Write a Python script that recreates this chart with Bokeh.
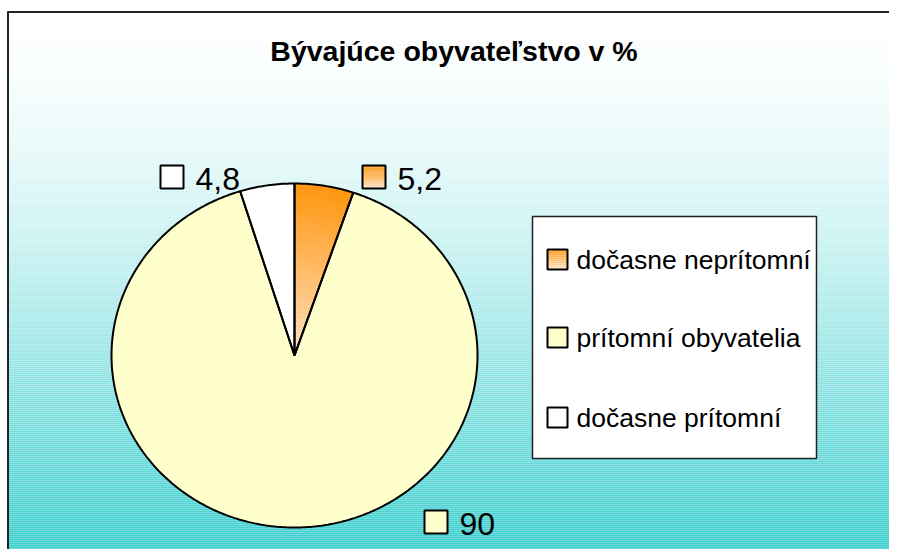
import numpy as np
from bokeh.plotting import figure
from bokeh.models import Range1d
from bokeh.core.properties import value
from bokeh.embed import file_html
from bokeh.resources import INLINE

# ---- data ----
title_text = "Bývajúce obyvateľstvo v %"
categories = ["dočasne neprítomní", "prítomní obyvatelia", "dočasne prítomní"]
values = [5.2, 90, 4.8]
colors = ["#ff9900", "#ffffcc", "#ffffff"]

# ---- layout (page pixel coordinates) ----
W, H = 889, 549
p = figure(width=W, height=H, x_range=Range1d(0, W), y_range=Range1d(H, 0),
           output_backend="svg", toolbar_location=None, min_border=0)
p.axis.visible = False
p.grid.visible = False
p.outline_line_color = None
p.background_fill_color = "white"
p.border_fill_color = "white"

FONT = "Liberation Sans"

# background gradient (white -> teal)
top_y, bot_y = 12, 560
ys = np.arange(top_y, bot_y, 2)
teal = np.array([51, 204, 204])
bg_cols = []
for y in ys:
    t = ((y - top_y) / (bot_y - top_y)) ** 1.5
    c = (1 - t) * np.array([255, 255, 255]) + t * teal
    bg_cols.append("#%02x%02x%02x" % tuple(int(round(v)) for v in c))
p.quad(left=8, right=W, top=ys, bottom=ys + 2, fill_color=bg_cols, line_color=None)

# chart border
p.segment(x0=[7, 7.5], y0=[11.5, 11], x1=[W, 7.5], y1=[11.5, 560], line_color="#222222", line_width=2)

# ---- pie ----
cx, cy, rx, ry = 294, 355, 183, 172
fr = np.array(values) / np.sum(values)
ends = np.cumsum(fr) * 2 * np.pi
starts = ends - fr * 2 * np.pi


def arc(a0, a1, r, n=None):
    n = n or max(4, int(abs(a1 - a0) * 80))
    a = np.linspace(a0, a1, n)
    return cx + rx * r * np.sin(a), cy - ry * r * np.cos(a)


xs_all, ys_all = [], []
for a0, a1 in zip(starts, ends):
    ax, ay = arc(a0, a1, 1.0)
    xs_all.append([cx] + list(ax))
    ys_all.append([cy] + list(ay))

light = np.array([255, 226, 196])
orange = np.array([255, 150, 16])


def grad(t):
    c = (1 - t) * light + t * orange
    return "#%02x%02x%02x" % tuple(int(round(v)) for v in c)


# base fills
p.patches(xs_all, ys_all, fill_color=colors, line_color=None)

# gradient fill for the first (orange) slice
N = 40
gx, gy, gc = [], [], []
for k in range(N):
    r0, r1 = k / N, (k + 1) / N
    ox, oy = arc(starts[0], ends[0], r1)
    ix, iy = arc(starts[0], ends[0], r0)
    gx.append(list(ox) + list(ix[::-1]))
    gy.append(list(oy) + list(iy[::-1]))
    gc.append(grad((r0 + r1) / 2))
p.patches(gx, gy, fill_color=gc, line_color=gc, line_width=0.5)

# outlines
p.patches(xs_all, ys_all, fill_alpha=0, line_color="black", line_width=2)

# ---- data labels ----
lab_box_x = [362, 424, 160]
lab_box_y = [165, 510, 165]
labels = [("%g" % v).replace(".", ",") for v in values]
for i in range(len(values)):
    bx, by = lab_box_x[i], lab_box_y[i]
    if i == 0:
        M = 12
        qy = np.linspace(by, by + 23, M + 1)
        qc = [grad(1 - (j + 0.5) / M) for j in range(M)]
        p.quad(left=bx, right=bx + 23, top=qy[:-1], bottom=qy[1:], fill_color=qc, line_color=None)
        p.quad(left=bx, right=bx + 23, top=by, bottom=by + 23, fill_alpha=0, line_color="black", line_width=2)
    else:
        p.quad(left=bx, right=bx + 23, top=by, bottom=by + 23, fill_color=colors[i], line_color="black", line_width=2)
    p.text(x=[bx + 35], y=[by + 13], text=[labels[i]], text_font=value(FONT), text_font_size="32px",
           text_baseline="middle", text_align="left", text_color="black")

# ---- title ----
p.text(x=[453.5], y=[50], text=[title_text], text_font=value(FONT), text_font_size="28.5px",
       text_font_style="bold", text_align="center", text_baseline="middle", text_color="black")

# ---- legend ----
p.quad(left=532, right=816, top=216, bottom=458, fill_color="white", line_color="#222222", line_width=1.5)
leg_y = [259, 337, 417]
for i, cat in enumerate(categories):
    ky = leg_y[i]
    if i == 0:
        M = 10
        qy = np.linspace(ky - 10, ky + 10, M + 1)
        qc = [grad(1 - (j + 0.5) / M) for j in range(M)]
        p.quad(left=547, right=567, top=qy[:-1], bottom=qy[1:], fill_color=qc, line_color=None)
        p.quad(left=547, right=567, top=ky - 10, bottom=ky + 10, fill_alpha=0, line_color="black", line_width=2)
    else:
        p.quad(left=547, right=567, top=ky - 10, bottom=ky + 10, fill_color=colors[i], line_color="black", line_width=2)
    p.text(x=[576], y=[ky], text=[cat], text_font=value(FONT), text_font_size="26.5px",
           text_baseline="middle", text_align="left", text_color="black")

open("out.html", "w").write(file_html(p, INLINE))
